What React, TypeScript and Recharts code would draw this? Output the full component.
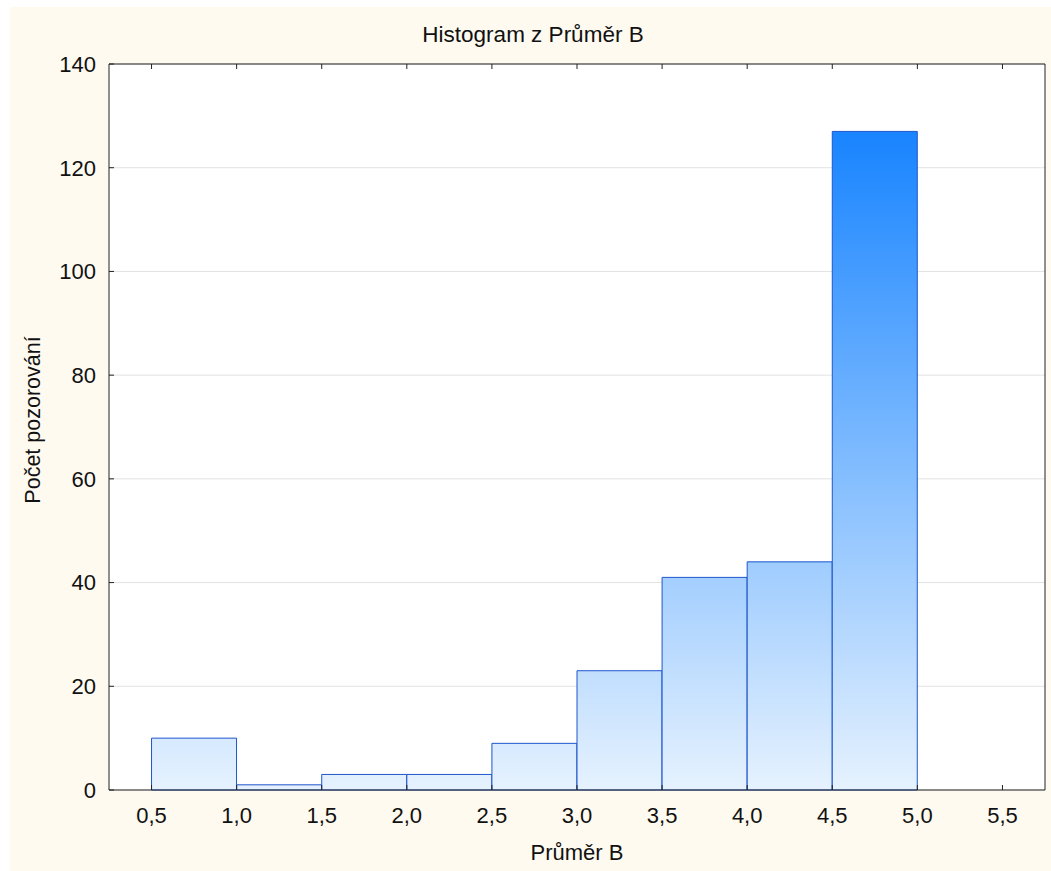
import { ComposedChart, Bar, XAxis, YAxis, CartesianGrid } from 'recharts';

const binStarts = [0.5, 1.0, 1.5, 2.0, 2.5, 3.0, 3.5, 4.0, 4.5];
const binWidth = 0.5;
const counts = [10, 1, 3, 3, 9, 23, 41, 44, 127];
const xTicks = [0.5, 1.0, 1.5, 2.0, 2.5, 3.0, 3.5, 4.0, 4.5, 5.0, 5.5];
const yTicks = [0, 20, 40, 60, 80, 100, 120, 140];

const data = binStarts.map((start, i) => ({ mid: start + binWidth / 2, count: counts[i] }));

const FONT = '"Liberation Sans", Arial, sans-serif';
const fmt = (v: number) => v.toFixed(1).replace('.', ',');

const BottomTick = ({ x, y, payload }: any) => (
  <g>
    <line x1={x} x2={x} y1={y} y2={y - 5} stroke="#222" />
    <text x={x} y={y + 33} textAnchor="middle" fontSize={22} fontFamily={FONT} fill="#111">
      {fmt(payload.value)}
    </text>
  </g>
);

const TopTick = ({ x, y }: any) => <line x1={x} x2={x} y1={y} y2={y + 5} stroke="#222" />;

const LeftTick = ({ x, y, payload }: any) => (
  <g>
    <line x1={x} x2={x + 5} y1={y} y2={y} stroke="#222" />
    <text x={x - 13} y={y} dy="0.36em" textAnchor="end" fontSize={22} fontFamily={FONT} fill="#111">
      {payload.value}
    </text>
  </g>
);

const RightTick = ({ x, y }: any) => <line x1={x} x2={x - 5} y1={y} y2={y} stroke="#222" />;

export default function App() {
  return (
    <div style={{ position: 'fixed', left: 0, top: 0, width: 1051, height: 871, background: '#FFFFFF' }}>
      <div style={{ position: 'absolute', left: 10, top: 7, right: 0, bottom: 0, background: '#FEFAF0' }} />
      <div
        style={{
          position: 'absolute',
          top: 22,
          left: 0,
          width: 1066,
          textAlign: 'center',
          fontFamily: FONT,
          fontSize: 22.5,
          color: '#111',
        }}
      >
        Histogram z Průměr B
      </div>
      <div
        style={{
          position: 'absolute',
          top: 840,
          left: 109,
          width: 936,
          textAlign: 'center',
          fontFamily: FONT,
          fontSize: 22,
          color: '#111',
        }}
      >
        Průměr B
      </div>
      <div
        style={{
          position: 'absolute',
          left: 33,
          top: 420,
          transform: 'translate(-50%, -50%) rotate(-90deg)',
          whiteSpace: 'nowrap',
          fontFamily: FONT,
          fontSize: 21.5,
          color: '#111',
        }}
      >
        Počet pozorování
      </div>
      <ComposedChart
        width={1051}
        height={871}
        data={data}
        margin={{ top: 63, right: 5, bottom: 0, left: 0 }}
        barCategoryGap={0}
        barGap={0}
        style={{ position: 'absolute', left: 0, top: 0 }}
      >
        <defs>
          <linearGradient id="barFill" gradientUnits="userSpaceOnUse" x1="0" y1="131" x2="0" y2="790">
            <stop offset="0%" stopColor="#1884FF" />
            <stop offset="100%" stopColor="#E6F2FE" />
          </linearGradient>
        </defs>
        <CartesianGrid yAxisId="left" xAxisId="bottom" vertical={false} stroke="#E2E2E2" fill="#FFFFFF" />
        <XAxis
          xAxisId="bottom"
          dataKey="mid"
          type="number"
          domain={[0.25, 5.75]}
          ticks={xTicks}
          interval={0}
          height={81}
          tickSize={0}
          tickMargin={0}
          tick={<BottomTick />}
          tickLine={false}
          axisLine={{ stroke: '#222' }}
          allowDataOverflow
        />
        <XAxis
          xAxisId="top"
          orientation="top"
          dataKey="mid"
          type="number"
          domain={[0.25, 5.75]}
          ticks={xTicks}
          interval={0}
          height={1}
          tickSize={0}
          tickMargin={0}
          tick={<TopTick />}
          tickLine={false}
          axisLine={{ stroke: '#222' }}
          allowDataOverflow
        />
        <YAxis
          yAxisId="left"
          domain={[0, 140]}
          ticks={yTicks}
          interval={0}
          width={109}
          tickSize={0}
          tickMargin={0}
          tick={<LeftTick />}
          tickLine={false}
          axisLine={{ stroke: '#222' }}
        />
        <YAxis
          yAxisId="right"
          orientation="right"
          domain={[0, 140]}
          ticks={yTicks}
          interval={0}
          width={1}
          tickSize={0}
          tickMargin={0}
          tick={<RightTick />}
          tickLine={false}
          axisLine={{ stroke: '#222' }}
        />
        <Bar
          xAxisId="bottom"
          yAxisId="left"
          dataKey="count"
          fill="url(#barFill)"
          stroke="#1E55CC"
          strokeWidth={1}
          isAnimationActive={false}
        />
      </ComposedChart>
    </div>
  );
}
